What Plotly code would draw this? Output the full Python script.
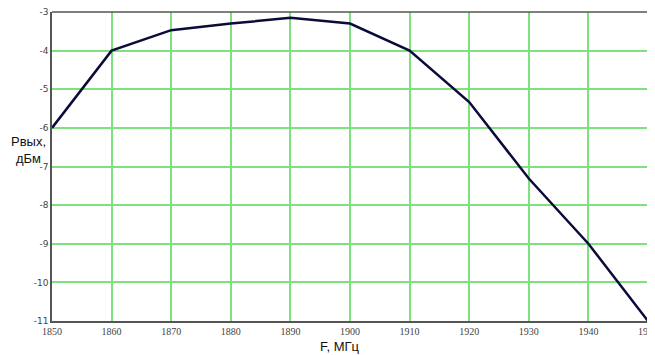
import plotly.graph_objects as go

freq = [1850, 1860, 1870, 1880, 1890, 1900, 1910, 1920, 1930, 1940, 1950]
pout = [-6.0, -4.0, -3.47, -3.3, -3.15, -3.3, -4.0, -5.33, -7.31, -9.0, -11.0]
x_ticks = [1850, 1860, 1870, 1880, 1890, 1900, 1910, 1920, 1930, 1940, 1950]
y_ticks = [-3, -4, -5, -6, -7, -8, -9, -10, -11]

fig = go.Figure()
fig.add_trace(go.Scatter(x=freq, y=pout, mode="lines",
                         line=dict(color="#0b0b3b", width=2.5), cliponaxis=False))

# the page body has an 8px margin; the figure is shifted to compensate
fig.update_layout(
    width=655, height=347,
    margin=dict(l=44, r=15, t=4, b=34),
    paper_bgcolor="white", plot_bgcolor="white",
    showlegend=False,
    xaxis=dict(range=[1850, 1950], tickvals=x_ticks, ticktext=[str(v) for v in x_ticks],
               showgrid=True, gridcolor="#7ee07e", gridwidth=1.5, zeroline=False,
               showline=True, linecolor="#555555", linewidth=1.5, mirror=False,
               ticks="", ticklen=0, automargin=False,
               tickfont=dict(family="Liberation Serif", size=10, color="#444444")),
    yaxis=dict(range=[-11, -3], tickvals=y_ticks, ticktext=["-" + str(-v) for v in y_ticks],
               showgrid=True, gridcolor="#7ee07e", gridwidth=1.5, zeroline=False,
               showline=True, linecolor="#555555", linewidth=1.5, mirror=False,
               ticks="", ticklen=0, ticklabeloverflow="allow", automargin=False,
               tickfont=dict(family="DejaVu Sans", size=9, color="#444444")),
    font=dict(family="Liberation Sans"),
)

# top border (gray) and right border (dark green)
fig.add_shape(type="line", xref="paper", yref="paper", x0=0, x1=1, y0=1, y1=1,
              line=dict(color="#555555", width=1.5))
fig.add_shape(type="line", xref="paper", yref="paper", x0=1, x1=1, y0=0, y1=1,
              line=dict(color="#1f7a1f", width=1.5))

fig.add_annotation(text="Рвых,<br>дБм", xref="paper", yref="paper",
                   x=-0.040, y=0.553, xanchor="center", yanchor="middle",
                   showarrow=False, align="center",
                   font=dict(family="Liberation Sans", size=13, color="#111111"))
fig.add_annotation(text="F, МГц", xref="paper", yref="paper",
                   x=0.483, y=0, yshift=-25, xanchor="center", yanchor="middle",
                   showarrow=False,
                   font=dict(family="Liberation Sans", size=13, color="#111111"))

fig.write_html("out.html")
